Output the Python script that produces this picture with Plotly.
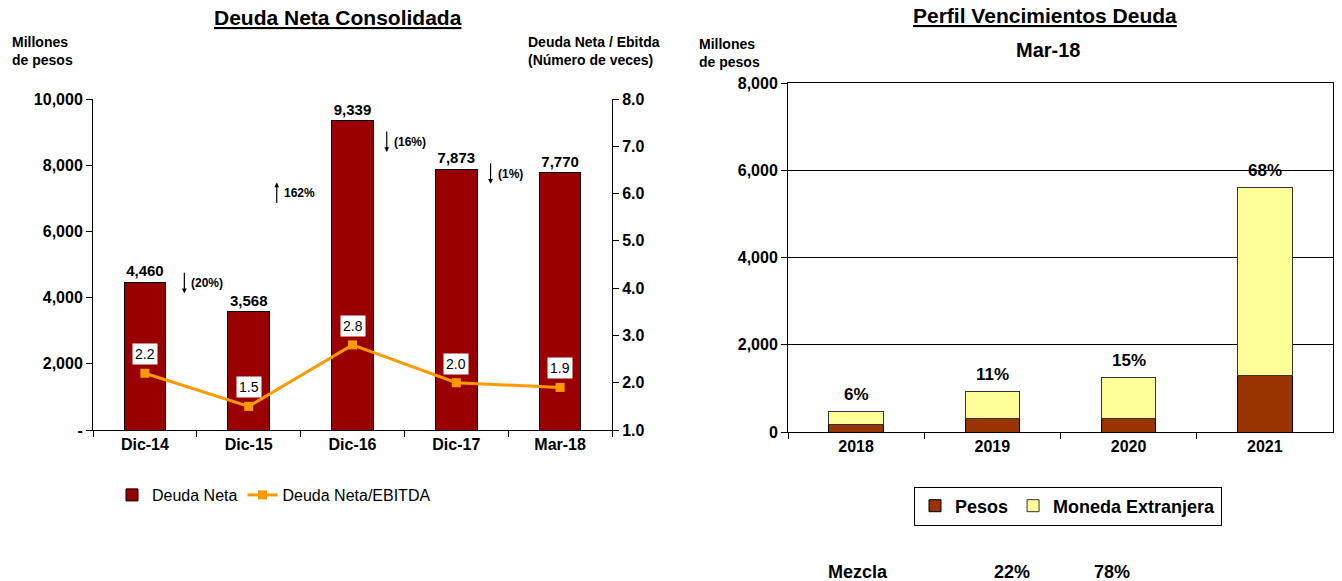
import plotly.graph_objects as go

# ---- data ----
periods = ["Dic-14", "Dic-15", "Dic-16", "Dic-17", "Mar-18"]
deuda_neta = [4460, 3568, 9339, 7873, 7770]
deuda_ebitda = [2.2, 1.5, 2.8, 2.0, 1.9]
var_labels = ["(20%)", "162%", "(16%)", "(1%)"]
var_dirs = ["down", "up", "down", "down"]
var_pos = [0.38, 1.27, 2.33, 3.33]
var_head = [4130, 7480, 8400, 7440]

years = ["2018", "2019", "2020", "2021"]
pesos = [180, 300, 300, 1300]
moneda_ext = [280, 620, 940, 4300]
pct_labels = ["6%", "11%", "15%", "68%"]

left_ticks = [0, 2000, 4000, 6000, 8000, 10000]
left_ticktext = ["-", "2,000", "4,000", "6,000", "8,000", "10,000"]
right_ticks = [1, 2, 3, 4, 5, 6, 7, 8]
vto_ticks = [0, 2000, 4000, 6000, 8000]

W, H = 1342, 581
FONT = "Liberation Sans, Arial, sans-serif"

def px(x):
    return x / W

def py(y):
    return 1 - y / H

def bold(size):
    return dict(family=FONT, size=size, color="#000000", weight="bold")

fig = go.Figure()

fig.add_trace(go.Bar(
    x=periods, y=deuda_neta, name="Deuda Neta",
    marker=dict(color="#990000", line=dict(color="#000000", width=1)),
    width=0.4, text=[f"{v:,}" for v in deuda_neta], textposition="outside",
    textfont=bold(15), cliponaxis=False, xaxis="x", yaxis="y", legend="legend",
))
fig.add_trace(go.Scatter(
    x=periods, y=deuda_ebitda, name="Deuda Neta/EBITDA", mode="lines+markers",
    line=dict(color="#FF9900", width=3),
    marker=dict(symbol="square", size=9, color="#FF9900"),
    xaxis="x", yaxis="y2", legend="legend",
))

fig.add_trace(go.Bar(
    x=years, y=pesos, name="Pesos",
    marker=dict(color="#993300", line=dict(color="#000000", width=1)),
    width=0.4, xaxis="x3", yaxis="y3", legend="legend2",
))
fig.add_trace(go.Bar(
    x=years, y=moneda_ext, name="Moneda Extranjera",
    marker=dict(color="#FFFF99", line=dict(color="#333333", width=1)),
    width=0.4, xaxis="x3", yaxis="y3", legend="legend2",
))

ann = []
# line value boxes
for p, v in zip(periods, deuda_ebitda):
    ann.append(dict(x=p, y=v, xref="x", yref="y2", text=f"{v:.1f}", showarrow=False,
                    xanchor="center", yanchor="middle",
                    yshift=19, bgcolor="#FFFFFF", borderpad=2,
                    font=dict(family=FONT, size=14, color="#000000")))
# variation arrows
for lab, d, xp, yh in zip(var_labels, var_dirs, var_pos, var_head):
    ann.append(dict(x=xp, y=yh, xref="x", yref="y", text="", showarrow=True,
                    ax=0, ay=(-22 if d == "down" else 22), arrowhead=2, arrowsize=0.8,
                    arrowwidth=1.2, arrowcolor="#000000"))
    ann.append(dict(x=xp, y=yh, xref="x", yref="y", text=lab, showarrow=False,
                    xanchor="left", yanchor="middle", xshift=5,
                    yshift=(10 if d == "down" else -11), font=bold(12)))
# pct labels on stacked bars
for i, (a, b, t) in enumerate(zip(pesos, moneda_ext, pct_labels)):
    ann.append(dict(x=i, y=a + b, xref="x3", yref="y3", text=t, showarrow=False,
                    xanchor="center", yanchor="middle", yshift=17, font=bold(17)))

def paper_text(x, y, text, size, xanchor="center", align="center", weight="bold"):
    return dict(x=px(x), y=py(y), xref="paper", yref="paper", text=text, showarrow=False,
                xanchor=xanchor, yanchor="middle", align=align,
                font=dict(family=FONT, size=size, color="#000000", weight=weight))

ann += [
    paper_text(338, 18, "<u>Deuda Neta Consolidada</u>", 21),
    paper_text(10, 51, "Millones<br>de pesos", 14, xanchor="left", align="left"),
    paper_text(662, 51, "Deuda Neta / Ebitda<br>(Número de veces)", 14, xanchor="right", align="left"),
    paper_text(1045, 15, "<u>Perfil Vencimientos Deuda</u>", 21),
    paper_text(1048, 50, "Mar-18", 20),
    paper_text(697, 53, "Millones<br>de pesos", 14, xanchor="left", align="left"),
    paper_text(858, 572, "Mezcla", 18),
    paper_text(1012, 572, "22%", 18),
    paper_text(1112, 572, "78%", 18),
]

tickfont = bold(16)
common = dict(ticks="outside", ticklen=6, tickcolor="#000000", showline=True,
              linecolor="#000000", linewidth=1, tickfont=tickfont, automargin=False)

fig.update_layout(
    width=W, height=H, margin=dict(l=0, r=0, t=0, b=0, autoexpand=False),
    paper_bgcolor="#FFFFFF", plot_bgcolor="#FFFFFF",
    barmode="stack", showlegend=True,
    annotations=ann,
    xaxis=dict(domain=[px(93), px(612)], anchor="y", type="category", tickson="boundaries",
               showgrid=False, range=[-0.5, 4.5], **common),
    yaxis=dict(domain=[py(430), py(99)], anchor="x", range=[0, 10000], tickvals=left_ticks,
               ticktext=left_ticktext, showgrid=False, zeroline=False, **common),
    yaxis2=dict(overlaying="y", side="right", anchor="x", range=[1, 8], tickvals=right_ticks,
                tickformat=".1f", showgrid=False, zeroline=False, **common),
    xaxis3=dict(domain=[px(788), px(1333)], anchor="y3", type="category", tickson="boundaries",
                mirror=True, showgrid=False, range=[-0.5, 3.5], **common),
    yaxis3=dict(domain=[py(432), py(83)], anchor="x3", range=[0, 8000], tickvals=vto_ticks,
                tickformat=",d", mirror=True, showgrid=True,
                gridcolor="#000000", gridwidth=1, zeroline=False, **common),
    legend=dict(x=px(112), y=py(495), xanchor="left", yanchor="middle", orientation="h",
                font=dict(family=FONT, size=16, color="#000000"), bgcolor="rgba(0,0,0,0)",
                traceorder="normal"),
    legend2=dict(x=px(1068), y=py(506), xanchor="center", yanchor="middle", orientation="h",
                 font=bold(18), bgcolor="#FFFFFF", bordercolor="#000000", borderwidth=1,
                 traceorder="normal"),
)

fig.write_html("out.html", config={"displayModeBar": False},
               post_script="document.body.style.margin='0';")
